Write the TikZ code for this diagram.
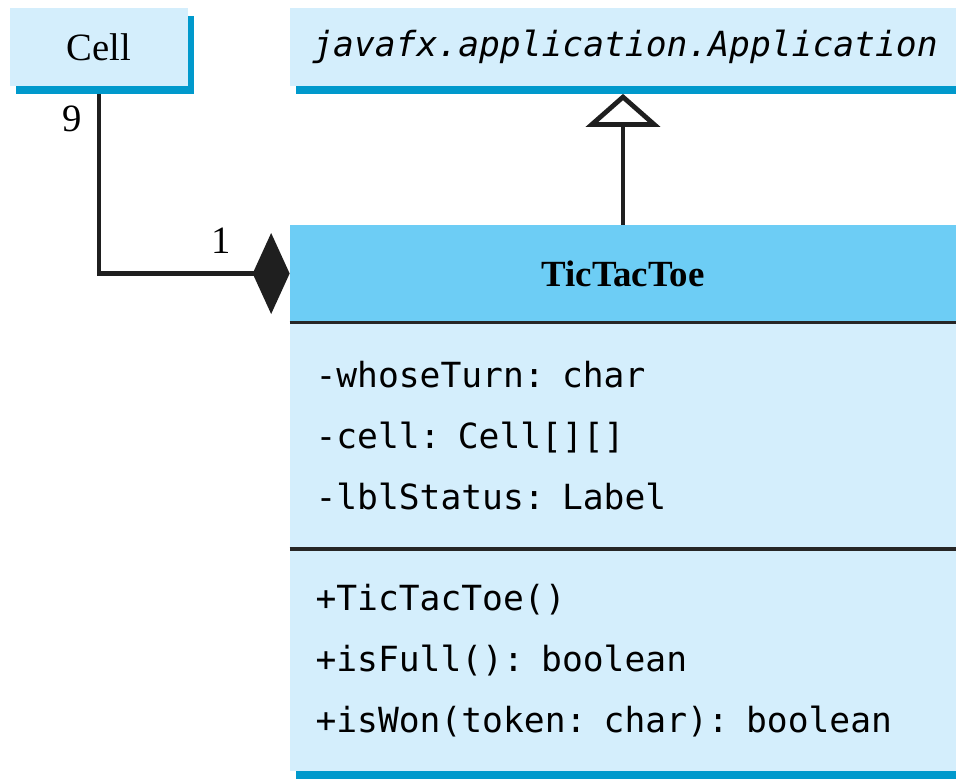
\documentclass[tikz,border=0pt]{standalone}
\usepackage{fontspec}
\setmainfont{Liberation Serif}
\newfontfamily\umlmono{DejaVu Sans Mono}
\usepackage{xcolor}
\usetikzlibrary{positioning, arrows.meta, shadows}

\definecolor{boxfill}{RGB}{212,238,252}
\definecolor{headfill}{RGB}{109,205,245}
\definecolor{shadowblue}{RGB}{0,153,204}

\begin{document}
\begin{tikzpicture}[
node distance=0cm,
every node/.style={align=center, inner sep=0pt},
boxshadow/.style={drop shadow={shadow xshift=0.12cm, shadow yshift=-0.15cm, fill=shadowblue, opacity=1}},
cls/.style={fill=boxfill, minimum height=1.56cm, boxshadow},
head/.style={fill=headfill, minimum width=13.32cm, minimum height=1.94cm, font=\fontsize{21}{24}\selectfont\bfseries},
members/.style={fill=boxfill, minimum width=13.32cm, text width=12.3cm, align=left, font=\umlmono\fontsize{19.7}{34.6}\selectfont},
sep/.style={draw=black!85, line width=2pt},
link/.style={draw=black!88, line width=2.7pt},
mult/.style={font=\fontsize{22}{24}\selectfont}
]
\useasboundingbox (0,0) rectangle (19.12,-15.58);

% ====== Classes ======
\node[cls, minimum width=3.56cm, font=\fontsize{22}{24}\selectfont] (cell) at (1.98,-0.94) {Cell};
\node[cls, minimum width=13.4cm, font=\umlmono\itshape\fontsize{19.7}{24}\selectfont] (app) at (12.5,-0.94) {javafx.application.Application};

\node[head] (ttt) at (12.46,-5.47) {TicTacToe};
\node[members, minimum height=4.52cm, below=of ttt] (attrs) {-whoseTurn: char\\-cell: Cell[][]\\-lblStatus: Label};
\node[members, minimum height=4.44cm, boxshadow, below=of attrs] (meths) {+TicTacToe()\\+isFull(): boolean\\+isWon(token: char): boolean};

\draw[sep] (ttt.south west) -- (ttt.south east);
\draw[sep] (attrs.south west) -- (attrs.south east);

% ====== Connections ======
\coordinate[below=0.15cm of app.south] (appbase);
\coordinate[below=0.15cm of cell.south] (cellbase);
\draw[link, -{Triangle[open, length=0.66cm, width=1.48cm, fill=white]}] (ttt.north) -- (ttt.north |- appbase);
\draw[link, -{Diamond[length=0.74cm, width=1.62cm]}] (cellbase) |- node[mult, pos=0.07, left=0.3cm] {9} node[mult, pos=0.82, above=0.35cm] {1} (ttt.west);

\end{tikzpicture}
\end{document}
